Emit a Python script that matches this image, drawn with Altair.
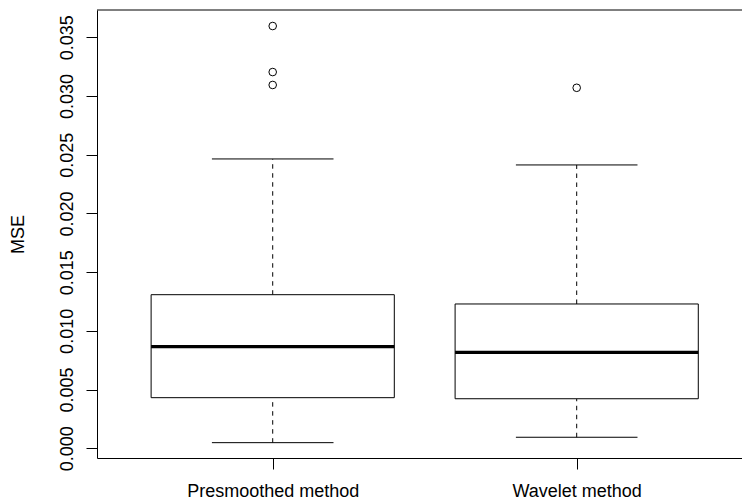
import altair as alt
import pandas as pd

# ---- data ----
groups = ["Presmoothed method", "Wavelet method"]
positions = [1, 2]
lower_whisker = [0.00048, 0.00094]
q1 = [0.00431, 0.00422]
median = [0.00865, 0.00817]
q3 = [0.01308, 0.01229]
upper_whisker = [0.02464, 0.02413]
outlier_pos = [1, 1, 1, 2]
outlier_value = [0.03596, 0.03204, 0.03094, 0.03070]
y_ticks = [0.000, 0.005, 0.010, 0.015, 0.020, 0.025, 0.030, 0.035]

FONT = "Liberation Sans"
W, H = 645, 448

stats = pd.DataFrame({
    "group": groups, "pos": positions, "lo": lower_whisker, "q1": q1,
    "med": median, "q3": q3, "hi": upper_whisker,
})
outs = pd.DataFrame({"pos": outlier_pos, "value": outlier_value})

xscale = alt.Scale(domain=[0.422, 2.5438], nice=False, zero=False)
yscale = alt.Scale(domain=[-0.000826, 0.037324], nice=False, zero=False)

label_expr = "[" + ",".join("'" + g + "'" for g in groups) + "][datum.value - 1]"
xaxis = alt.Axis(values=positions, labelExpr=label_expr, title="", grid=False,
                 tickSize=11, labelPadding=27, labelBaseline="alphabetic",
                 labelAlign="center", labelFlush=False, labelOverlap=False)
yaxis = alt.Axis(values=y_ticks, format=".3f", title="MSE", grid=False,
                 tickSize=11, labelAngle=270, labelAlign="center",
                 labelBaseline="alphabetic", labelPadding=14,
                 labelFlush=False, labelOverlap=False,
                 titleAngle=270, titleAlign="center", titleBaseline="alphabetic",
                 titleX=-74, titleY=H / 2)


def X(field):
    return alt.X(field, type="quantitative", scale=xscale, axis=xaxis)


def Y(field):
    return alt.Y(field, type="quantitative", scale=yscale, axis=yaxis)


base = alt.Chart(stats).transform_calculate(
    xl="datum.pos - 0.4", xr="datum.pos + 0.4",
    cl="datum.pos - 0.2", cr="datum.pos + 0.2",
)

dash = [4.5, 4.5]
whisk_up = base.mark_rule(color="black", strokeWidth=1, strokeDash=dash).encode(
    x=X("pos"), y=Y("q3"), y2="hi")
whisk_lo = base.mark_rule(color="black", strokeWidth=1, strokeDash=dash).encode(
    x=X("pos"), y=Y("lo"), y2="q1")
cap_up = base.mark_rule(color="black", strokeWidth=1).encode(
    x=X("cl"), x2="cr", y=Y("hi"))
cap_lo = base.mark_rule(color="black", strokeWidth=1).encode(
    x=X("cl"), x2="cr", y=Y("lo"))
boxes = base.mark_rect(fill="white", stroke="black", strokeWidth=1).encode(
    x=X("xl"), x2="xr", y=Y("q1"), y2="q3")
meds = base.mark_rule(color="black", strokeWidth=3.2, strokeCap="butt").encode(
    x=X("xl"), x2="xr", y=Y("med"))
points = alt.Chart(outs).mark_point(shape="circle", size=58, filled=False,
                                    stroke="black", strokeWidth=1, opacity=1).encode(
    x=X("pos"), y=Y("value"))
top = alt.Chart(pd.DataFrame({"k": [0]})).mark_rule(color="black", strokeWidth=1).encode(
    x=alt.value(0), x2=alt.value(W), y=alt.value(0))

chart = alt.layer(whisk_up, whisk_lo, cap_up, cap_lo, boxes, meds, points, top).properties(
    width=W, height=H, autosize="none",
    padding={"left": 97, "top": 10, "right": 0, "bottom": 44},
    background="white",
).configure_view(stroke="transparent").configure_axis(
    domainColor="black", domainWidth=1, tickColor="black", tickWidth=1,
    labelFont=FONT, labelFontSize=18, labelColor="black",
    titleFont=FONT, titleFontSize=18, titleColor="black", titleFontWeight="normal",
)

chart.save("out.html", embed_options={"renderer": "svg", "actions": False})
